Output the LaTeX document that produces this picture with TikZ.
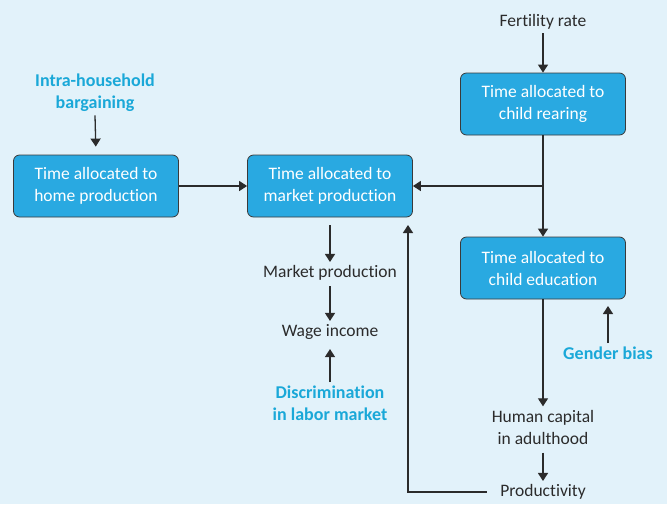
\documentclass[tikz,border=0pt]{standalone}
\usepackage{fontspec}
\setmainfont{Carlito}[RawFeature={-liga}]
\usetikzlibrary{arrows.meta}
\definecolor{bg}{HTML}{E2F2FA}
\definecolor{boxfill}{HTML}{29A9E1}
\definecolor{boxline}{HTML}{3A3A3A}
\definecolor{accent}{HTML}{1AA8D8}
\definecolor{ink}{HTML}{2B2B2B}
\begin{document}
\begin{tikzpicture}[x=1pt,y=-1pt,
  box/.style={draw=boxline, line width=0.8pt, fill=boxfill, rounded corners=6pt,
    text=white, minimum width=165pt, minimum height=62pt, align=center,
    font=\fontsize{17.5}{22}\selectfont},
  lbl/.style={text=ink, align=center, font=\fontsize{17.5}{22}\selectfont},
  keyl/.style={text=accent, align=center, font=\bfseries\fontsize{18}{22}\selectfont},
  arr/.style={draw=ink, line width=1.3pt, -{Triangle[width=10pt,length=8pt]}},
  ln/.style={draw=ink, line width=1.3pt}]
\fill[bg] (0,0) rectangle (667,504);
\useasboundingbox (0,0) rectangle (667,504);

% boxes
\node[box] (home) at (96,186) {Time allocated to\\home production};
\node[box] (market) at (330,186) {Time allocated to\\market production};
\node[box] (rearing) at (543,104) {Time allocated to\\child rearing};
\node[box] (educ) at (543,268) {Time allocated to\\child education};

% labels
\node[lbl] (fert) at (543,22) {Fertility rate};
\node[keyl] (intra) at (95,93) {Intra-household\\bargaining};
\node[lbl] (mprod) at (330,273) {Market production};
\node[lbl] (wage) at (330,332) {Wage income};
\node[keyl] (discr) at (330,403) {Discrimination\\in labor market};
\node[lbl] (human) at (543,427) {Human capital\\in adulthood};
\node[lbl] (prodv) at (543,492) {Productivity};
\node[keyl] (gender) at (608,353) {Gender bias};

% helper coordinates
\coordinate (junc) at (rearing.south |- market.east);
\coordinate (ret) at (408,225);
\coordinate (gtip) at (608,306);

% connectors
\draw[arr] (fert.south) -- (rearing.north);
\draw[arr, shorten >=8pt] (intra.south) -- (home.north);
\draw[arr] (home.east) -- (market.west);
\draw[arr] (rearing.south) -- (educ.north);
\draw[arr] (junc) -- (market.east);
\draw[arr, shorten <=8pt] (market.south) -- (mprod.north);
\draw[arr, shorten <=2pt] (mprod.south) -- (wage.north);
\draw[arr, shorten >=6pt] (discr.north) -- (wage.south);
\draw[arr] (educ.south) -- (human.north);
\draw[arr, shorten <=5pt] (human.south) -- (prodv.north);
\draw[arr] ([xshift=-10pt]prodv.west) -| (ret);
\draw[arr] (gender.north) -- (gtip);
\end{tikzpicture}
\end{document}
